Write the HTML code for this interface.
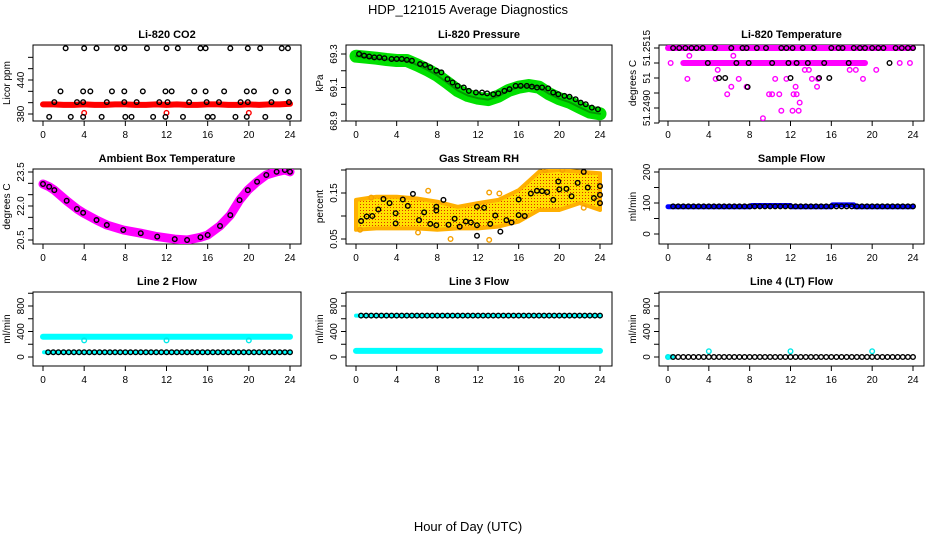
<!DOCTYPE html>
<html><head><meta charset="utf-8"><style>
html,body{margin:0;padding:0;background:#fff;}
svg{display:block;font-family:"Liberation Sans",sans-serif;}
</style></head><body>
<svg id="chart" width="936" height="540" viewBox="0 0 936 540" xmlns="http://www.w3.org/2000/svg">
<text x="468" y="14" text-anchor="middle" font-size="13">HDP_121015  Average Diagnostics</text>
<text x="468" y="531" text-anchor="middle" font-size="13">Hour of Day (UTC)</text>
</svg>
<script>
// ---------- data ----------
const xTickHours = [0,4,8,12,16,20,24];
// CO2
const co2RedHours = [0,1,2,3,4,5,6,7,8,9,10,11,12,13,14,15,16,17,18,19,20,21,22,23,24];
const co2RedVals = [397,397,396,396,397,396,396,397,397,396,396,397,396,397,396,396,397,397,396,396,397,396,397,397,398];
const co2RedOutHours = [4,12,20];
const co2RedOutVals = [382,382,382];
const co2BlkHours = [2.2,4.0,5.2,7.2,7.9,10.1,12.0,13.1,15.3,15.8,18.2,19.9,21.1,23.2,23.8,
 1.7,3.9,4.6,6.7,7.9,9.7,11.9,12.5,14.7,15.8,17.6,19.8,20.5,22.6,23.8,
 1.1,3.3,3.9,6.2,7.9,9.1,11.3,12.1,14.2,15.9,17.1,19.2,19.9,22.2,23.9,
 0.6,2.7,3.9,5.7,8.0,8.6,10.7,11.9,13.6,16.0,16.5,18.7,19.8,21.6,23.9];
const co2BlkVals = [496,496,496,496,496,496,496,496,496,496,496,496,496,496,496,
 420,420,420,420,420,420,420,420,420,420,420,420,420,420,420,
 401,401,401,401,401,401,401,401,401,401,401,401,401,401,401,
 375,375,375,375,375,375,375,375,375,375,375,375,375,375,375];
const co2Ticks = [380,400,420,440,460,480];
const co2Labels = ["380","","","440","",""];
// Pressure
const presHours = [0,1,2,3,4,5,6,7,8,9,10,11,12,13,14,15,16,17,18,19,20,21,22,23,24];
const presVals = [69.287,69.281,69.275,69.267,69.261,69.261,69.235,69.206,69.172,69.128,69.082,69.052,69.036,69.028,69.048,69.082,69.102,69.112,69.102,69.062,69.033,69.012,68.982,68.953,68.943];
const presBlkHours = [0.3,0.8,1.3,1.8,2.3,2.8,3.5,4.0,4.5,5.0,5.5,6.3,6.8,7.3,7.9,8.4,9.0,9.5,10.0,10.6,11.1,11.8,12.4,12.9,13.5,14.0,14.6,15.1,15.7,16.2,16.8,17.3,17.8,18.3,18.9,19.4,19.9,20.5,21.0,21.6,22.1,22.6,23.2,23.8];
const presBlkVals = [69.30,69.29,69.285,69.28,69.28,69.275,69.27,69.27,69.27,69.265,69.26,69.24,69.235,69.22,69.2,69.19,69.15,69.13,69.11,69.10,69.08,69.07,69.07,69.065,69.06,69.065,69.08,69.09,69.11,69.11,69.11,69.105,69.10,69.10,69.095,69.07,69.06,69.05,69.045,69.03,69.01,69.0,68.98,68.97];
const presTicks = [68.9,69.0,69.1,69.2,69.3];
const presLabels = ["68.9","","69.1","","69.3"];
// Li-820 temperature
const tempRowVals = [51.2515,51.2510,51.2510];
const tempRowStart = [0,1.5,12.3];
const tempRowEnd = [24,12.0,19.3];
const tempMagHours = [0.26,2.09,1.73,4.87,1.9,4.67,6.4,6.2,5.8,6.93,7.7,9.9,10.2,10.9,11.1,12.2,12.8,12.9,12.5,12.6,13.4,13.8,14.6,14.7,9.3,11.6,10.5,17.8,18.4,19.1,20.4,22.7,23.7,12.3,14.1];
const tempMagVals = [51.2510,51.25124,51.2510,51.25077,51.25047,51.25047,51.25124,51.25021,51.24996,51.25047,51.25021,51.24996,51.24996,51.24996,51.24941,51.24941,51.24941,51.24968,51.25021,51.24996,51.25077,51.25077,51.25021,51.25047,51.24916,51.25047,51.25047,51.25077,51.25077,51.25047,51.25077,51.2510,51.2510,51.24996,51.25047];
const tempBlkHours = [0.5,1.1,1.7,2.3,2.8,3.4,4.6,6.2,7.3,7.7,8.7,9.6,11.1,11.6,12.2,13.2,14.3,16.0,16.7,17.1,18.2,18.8,19.3,20.0,20.6,21.1,22.3,22.9,23.5,24.0,
 3.9,6.7,7.9,10.2,11.8,12.6,13.7,15.3,17.7,21.7, 5.0,5.6,12.0,14.8,15.8, 7.8];
const tempBlkVals = [51.2515,51.2515,51.2515,51.2515,51.2515,51.2515,51.2515,51.2515,51.2515,51.2515,51.2515,51.2515,51.2515,51.2515,51.2515,51.2515,51.2515,51.2515,51.2515,51.2515,51.2515,51.2515,51.2515,51.2515,51.2515,51.2515,51.2515,51.2515,51.2515,51.2515,
 51.2510,51.2510,51.2510,51.2510,51.2510,51.2510,51.2510,51.2510,51.2510,51.2510, 51.2505,51.2505,51.2505,51.2505,51.2505, 51.2502];
const tempTicks = [51.2515,51.2510,51.2505,51.2500,51.2495,51.2490];
const tempLabels = ["51.2515","","51","","51.2490",""];
// Ambient
const ambHours = [0,0.6,1.1,2.3,3.3,3.9,5.2,6.2,7.8,9.5,11.1,12.8,14,15.3,16,17.2,18.2,19.1,19.9,20.8,21.7,22.7,23.5,24];
const ambVals = [22.97,22.85,22.7,22.23,21.87,21.7,21.38,21.16,20.94,20.8,20.65,20.54,20.5,20.62,20.72,21.12,21.6,22.26,22.7,23.07,23.37,23.51,23.59,23.51];
const ambTicks = [20.5,21.0,21.5,22.0,22.5,23.0,23.5];
const ambLabels = ["20.5","","","22.0","","","23.5"];
// Gas RH
const rhBandHours = [0,2,4,6,8,10,12,14,16,18,20,22,24];
const rhUpper = [0.135,0.142,0.142,0.138,0.131,0.120,0.128,0.135,0.156,0.196,0.200,0.196,0.193];
const rhLower = [0.070,0.073,0.073,0.073,0.070,0.073,0.073,0.077,0.088,0.113,0.113,0.128,0.113];
const rhOutHours = [9.3,13.1,7.1,13.1,14.1,6.1,22.4,0.4,18.6,20.3,1.5];
const rhOutVals = [0.05,0.048,0.155,0.151,0.149,0.064,0.118,0.07,0.2,0.2,0.14];
const rhBlkHours = [0.5,1.05,1.6,2.2,2.7,3.3,3.9,3.9,4.6,5.1,5.6,6.2,6.7,7.3,7.9,7.9,7.9,8.6,9.1,9.7,10.2,10.8,11.3,11.9,11.9,11.9,12.6,13.2,13.7,14.2,14.8,15.3,16.0,16.0,16.6,17.2,17.8,18.3,18.8,19.4,19.9,20.0,20.7,21.2,21.8,22.4,22.8,23.4,24.0,24.0,24.0];
const rhBlkVals = [0.089,0.099,0.100,0.114,0.137,0.128,0.106,0.084,0.136,0.122,0.148,0.091,0.108,0.083,0.080,0.112,0.120,0.135,0.081,0.094,0.077,0.088,0.086,0.080,0.120,0.057,0.118,0.083,0.101,0.066,0.091,0.086,0.102,0.136,0.100,0.149,0.155,0.154,0.152,0.135,0.175,0.158,0.159,0.143,0.172,0.196,0.162,0.139,0.165,0.146,0.128];
const rhTicks = [0.05,0.10,0.15,0.20];
const rhLabels = ["0.05","","0.15",""];
// Sample flow
const sfSegStart = [0,8.2,12.1,16.1,18.3];
const sfSegEnd = [8.1,12.0,16.0,18.2,24];
const sfSegVals = [88,92,88,94,88];
const sfBlkVal = 89;
const sfTicks = [0,50,100,150,200];
const sfLabels = ["0","","100","","200"];
// Line flows
const flowTicks = [0,200,400,600,800,1000];
const flowLabels = ["0","","400","","800",""];
const l2CyanVal = 318, l2LowVal = 75, l2BlkVal = 75;
const l2OutHours = [4,12,20];
const l2OutVals = [260,260,260];
const l3CyanVal = 95, l3TopVal = 650, l3BlkVal = 650;
const l4BlkVal = 0;
const l4OutHours = [0,4,12,20];
const l4OutVals = [0,90,90,90];

// ---------- geometry ----------
const colX0 = [43,356,668], colX24 = [290,600,913];
const boxL = [33,346,659], boxR = [301,612,924];
const rowT = [45,169,292], rowB = [121,244,366];
const NS = 'http://www.w3.org/2000/svg';
const svg = document.getElementById('chart');
function mk(tag, attrs, parent){
  const e = document.createElementNS(NS, tag);
  for (const k in attrs) e.setAttribute(k, attrs[k]);
  (parent||svg).appendChild(e);
  return e;
}
function makePanel(col,row,v1,y1,v2,y2,title,ylab,ticks,labels,name){
  const g = mk('g',{});
  
  
  const sx = h => colX0[col] + h*(colX24[col]-colX0[col])/24;
  const sy = v => y1 + (v-v1)*(y2-y1)/(v2-v1);
  const box = mk('rect',{x:boxL[col],y:rowT[row],width:boxR[col]-boxL[col],height:rowB[row]-rowT[row],fill:'none',stroke:'#000','stroke-width':1},g);
  
  
  const t = mk('text',{x:(boxL[col]+boxR[col])/2,y:rowT[row]-7,'text-anchor':'middle','font-size':11,'font-weight':'bold'},g);
  t.textContent = title;
  
  
  const xb = rowB[row];
  mk('line',{x1:sx(0),x2:sx(24),y1:xb,y2:xb,stroke:'#000'},g);
  xTickHours.forEach(h=>{
    mk('line',{x1:sx(h),x2:sx(h),y1:xb,y2:xb+5,stroke:'#000'},g);
    const tl = mk('text',{x:sx(h),y:xb+17,'text-anchor':'middle','font-size':10},g);
    tl.textContent = h;
    
    
  });
  const xl = boxL[col];
  mk('line',{x1:xl,x2:xl,y1:sy(ticks[0]),y2:sy(ticks[ticks.length-1]),stroke:'#000'},g);
  ticks.forEach((v,i)=>{
    mk('line',{x1:xl-5,x2:xl,y1:sy(v),y2:sy(v),stroke:'#000'},g);
    if (labels[i]) {
      const yl = mk('text',{x:0,y:0,'text-anchor':'middle','font-size':10,transform:`translate(${xl-9},${sy(v)}) rotate(-90)`},g);
      yl.textContent = labels[i];
      
      
    }
  });
  const yt = mk('text',{x:0,y:0,'text-anchor':'middle','font-size':10,transform:`translate(${xl-23},${(rowT[row]+rowB[row])/2}) rotate(-90)`},g);
  yt.textContent = ylab;
  
  
  const clipId = 'clip'+col+row;
  const cp = mk('clipPath',{id:clipId},g);
  mk('rect',{x:boxL[col],y:rowT[row],width:boxR[col]-boxL[col],height:rowB[row]-rowT[row]},cp);
  const dg = mk('g',{'clip-path':`url(#${clipId})`},g);
  
  
  return {sx,sy,g:dg};
}
function pts(p, hs, vs, color, name, r, sw){
  hs.forEach((h,i)=>{
    const c = mk('circle',{cx:p.sx(h),cy:p.sy(vs[i]),r:r||2.3,fill:'none',stroke:color,'stroke-width':sw||1.4},p.g);
    
    
  });
}
function band(p, hs, vs, color, w, name){
  const d = hs.map((h,i)=>(i?'L':'M')+p.sx(h).toFixed(1)+' '+p.sy(vs[i]).toFixed(1)).join(' ');
  const e = mk('path',{d, fill:'none', stroke:color, 'stroke-width':w, 'stroke-linecap':'round','stroke-linejoin':'round'},p.g);
  
  
}
function seg(p,h1,h2,v,color,w,name){ band(p,[h1,h2],[v,v],color,w,name); }
function blkRow(p,h1,h2,v,name){
  const hs=[]; for(let h=h1; h<=h2+1e-6; h+=0.5) hs.push(h);
  pts(p,hs,hs.map(()=>v),'#000',name);
}

let p;
p = makePanel(0,0,380,114,440,80,'Li-820 CO2','Licor ppm',co2Ticks,co2Labels,'co2');
band(p,co2RedHours,co2RedVals,'#f00',6,'co2-red-band');
pts(p,co2RedOutHours,co2RedOutVals,'#f00','co2-red-outlier');
pts(p,co2BlkHours,co2BlkVals,'#000','co2-black-point');

p = makePanel(1,0,68.9,121,69.3,54,'Li-820 Pressure','kPa',presTicks,presLabels,'pressure');
band(p,presHours,presVals,'#00e000',13,'pressure-green-band');
band(p,presHours,presVals,'#009900',2,'pressure-band-core');
pts(p,presBlkHours,presBlkVals,'#000','pressure-black-point');

p = makePanel(2,0,51.2515,48,51.2490,123,'Li-820 Temperature','degrees C',tempTicks,tempLabels,'li820-temp');
tempRowVals.forEach((v,i)=>seg(p,tempRowStart[i],tempRowEnd[i],v,'#ff00ff',6,'temp-magenta-row'));
pts(p,tempMagHours,tempMagVals,'#ff00ff','temp-magenta-point');
pts(p,tempBlkHours,tempBlkVals,'#000','temp-black-point');

p = makePanel(0,1,20.5,240,23.5,172,'Ambient Box Temperature','degrees C',ambTicks,ambLabels,'ambient');
band(p,ambHours,ambVals,'#ff00ff',9,'ambient-magenta-band');
pts(p,ambHours,ambVals,'#000','ambient-black-point');

p = makePanel(1,1,0.05,239,0.15,193,'Gas Stream RH','percent',rhTicks,rhLabels,'rh');
{
  const pat = mk('pattern',{id:'rhpat',width:3,height:3,patternUnits:'userSpaceOnUse'},svg);
  mk('rect',{width:3,height:3,fill:'#ffe000'},pat);
  mk('rect',{width:1,height:1,fill:'#e03000'},pat);
  const up = rhBandHours.map((h,i)=>p.sx(h).toFixed(1)+','+p.sy(rhUpper[i]).toFixed(1));
  const lo = rhBandHours.map((h,i)=>p.sx(h).toFixed(1)+','+p.sy(rhLower[i]).toFixed(1)).reverse();
  const poly = mk('polygon',{points:up.concat(lo).join(' '),fill:'url(#rhpat)',stroke:'#ffb000','stroke-width':4,'stroke-linejoin':'round'},p.g);
  
  
  pts(p,rhOutHours,rhOutVals,'#f5a000','rh-outlier-point');
  pts(p,rhBlkHours,rhBlkVals,'#000','rh-black-point');
}

p = makePanel(2,1,0,234,100,203,'Sample Flow','ml/min',sfTicks,sfLabels,'sample-flow');
sfSegVals.forEach((v,i)=>seg(p,sfSegStart[i],sfSegEnd[i],v,'#0000ff',5,'sample-flow-blue-band'));
blkRow(p,0.5,24,sfBlkVal,'sample-flow-black-point');

p = makePanel(0,2,0,357,800,306,'Line 2 Flow','ml/min',flowTicks,flowLabels,'line2');
seg(p,0,24,l2CyanVal,'#00ffff',6,'line2-cyan-band');
seg(p,0.1,24,l2LowVal,'#00ffff',4,'line2-cyan-low-band');
pts(p,l2OutHours,l2OutVals,'#00e8e8','line2-cyan-outlier');
blkRow(p,0.5,24,l2BlkVal,'line2-black-point');

p = makePanel(1,2,0,357,800,306,'Line 3 Flow','ml/min',flowTicks,flowLabels,'line3');
seg(p,0,24,l3CyanVal,'#00ffff',6,'line3-cyan-band');
seg(p,0,24,l3TopVal,'#00ffff',4,'line3-cyan-top-band');
blkRow(p,0.5,24,l3BlkVal,'line3-black-point');

p = makePanel(2,2,0,357,800,306,'Line 4 (LT) Flow','ml/min',flowTicks,flowLabels,'line4');
seg(p,0,0.4,l4BlkVal,'#00ffff',5,'line4-cyan-start');
pts(p,l4OutHours,l4OutVals,'#00e8e8','line4-cyan-point');
blkRow(p,0.5,24,l4BlkVal,'line4-black-point');
</script>
</body></html>
